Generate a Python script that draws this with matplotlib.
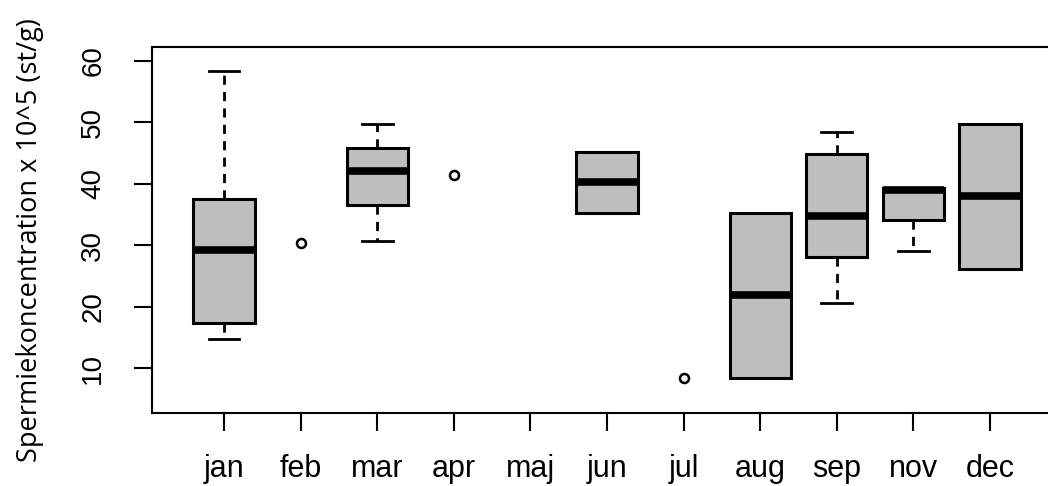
import matplotlib
matplotlib.use("Agg")
import matplotlib.pyplot as plt

# month labels on the x axis
months = ["jan", "feb", "mar", "apr", "maj", "jun", "jul", "aug", "sep", "nov", "dec"]

# groups drawn as boxes
box_months = ["jan", "mar", "jun", "aug", "sep", "nov", "dec"]
whislo = [14.7, 30.7, 35.3, 8.5, 20.7, 29.0, 26.1]
q1 = [17.3, 36.6, 35.3, 8.5, 28.1, 34.1, 26.1]
med = [29.2, 42.1, 40.3, 22.0, 34.8, 39.0, 38.0]
q3 = [37.6, 45.9, 45.2, 35.3, 44.8, 39.4, 49.8]
whishi = [58.3, 49.8, 45.2, 35.3, 48.4, 39.4, 49.8]

# groups with a single observation
point_months = ["feb", "apr", "jul"]
point_vals = [30.4, 41.4, 8.4]

yticks = [10, 20, 30, 40, 50, 60]
ylab = "Spermiekoncentration x 10^5 (st/g)"

fig = plt.figure(figsize=(10.48, 4.86), dpi=100)
ax = fig.add_axes([152 / 1048, 1 - 412.7 / 486, 910 / 1048, (412.7 - 47.3) / 486])

stats = []
for m, lo, a, md, b, hi in zip(box_months, whislo, q1, med, q3, whishi):
    stats.append(dict(label=m, whislo=lo, q1=a, med=md, q3=b, whishi=hi, fliers=[]))
pos = [months.index(m) + 1 for m in box_months]

ax.bxp(stats, positions=pos, widths=0.8, capwidths=0.4, patch_artist=True,
       showfliers=False, manage_ticks=False,
       boxprops=dict(facecolor="#bebebe", edgecolor="black", linewidth=2.2),
       medianprops=dict(color="black", linewidth=5.5, solid_capstyle="butt"),
       whiskerprops=dict(color="black", linewidth=2.0, linestyle=(0, (3.3, 2.6))),
       capprops=dict(color="black", linewidth=2.0))

ax.plot([months.index(m) + 1 for m in point_months], point_vals, "o",
        mfc="none", mec="black", ms=6.5, mew=1.8, ls="none")

ax.set_xlim(0.06, 11.94)
ax.set_ylim(2.78, 62.2)
ax.set_xticks(range(1, len(months) + 1), months)
ax.set_yticks(yticks, [str(v) for v in yticks])
ax.tick_params(axis="both", direction="out", length=13, width=1.5, color="black",
               labelfontfamily="Liberation Sans")
ax.tick_params(axis="x", pad=17, labelsize=22)
ax.tick_params(axis="y", pad=20, labelsize=20, labelrotation=90)
for t in ax.get_yticklabels():
    t.set_verticalalignment("center")
for s in ax.spines.values():
    s.set_linewidth(1.5)

fig.text(30 / 1048, 1 - 240 / 486, ylab, rotation=90, ha="center", va="center",
         family="Open Sans", fontsize=19.5)

fig.savefig("out.png", dpi=100)
